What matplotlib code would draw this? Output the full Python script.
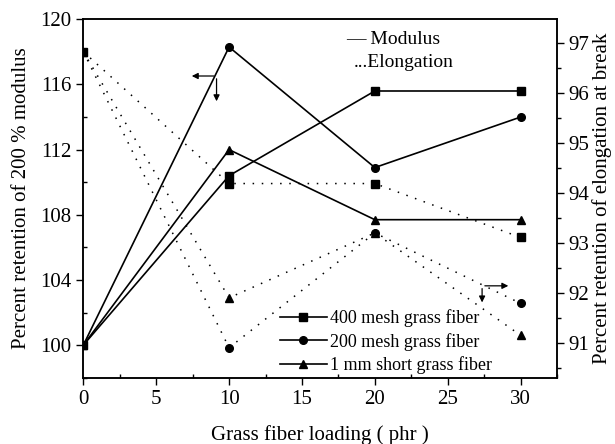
import matplotlib.pyplot as plt
from matplotlib.ticker import MultipleLocator

plt.rcParams['font.family'] = ['Liberation Serif', 'DejaVu Serif']

# grass fiber loading (phr)
loading = [0, 10, 20, 30]

# retention of 200 % modulus (left axis)
mod_400 = [100.0, 110.4, 115.6, 115.6]
mod_200 = [100.0, 118.3, 110.9, 114.0]
mod_1mm = [100.0, 112.0, 107.7, 107.7]

# retention of elongation at break (right axis)
elo_400 = [96.83, 94.19, 94.19, 93.11]
elo_200 = [96.83, 90.90, 93.20, 91.79]
elo_1mm = [96.83, 91.90, 93.20, 91.15]

labels = ['400 mesh grass fiber', '200 mesh grass fiber', '1 mm short grass fiber']
markers = ['s', 'o', '^']

fig = plt.figure(figsize=(6.15, 4.44), dpi=100)
ax = fig.add_axes([0.1355, 0.1493, 0.7702, 0.8072])
ax2 = ax.twinx()

handles = []
for y, m, lab in zip([mod_400, mod_200, mod_1mm], markers, labels):
    h, = ax.plot(loading, y, color='black', lw=1.2, marker=m, ms=5.5, label=lab)
    handles.append(h)

for y, m in zip([elo_400, elo_200, elo_1mm], markers):
    ax2.plot(loading, y, color='black', lw=1.1, ls=(0, (1, 5)), marker=m, ms=5.5)

ax.set_xlim(0, 32.5)
ax.set_ylim(98, 120)
ax2.set_ylim(90.3, 97.48)

ax.xaxis.set_major_locator(MultipleLocator(5))
ax.xaxis.set_minor_locator(MultipleLocator(2.5))
ax.yaxis.set_major_locator(MultipleLocator(4))
ax.yaxis.set_minor_locator(MultipleLocator(2))
ax2.yaxis.set_major_locator(MultipleLocator(1))
ax2.yaxis.set_minor_locator(MultipleLocator(0.5))

ax.tick_params(axis='both', which='major', direction='out', length=5, width=1, labelsize=15)
ax.tick_params(axis='both', which='minor', direction='in', length=3, width=1)
ax2.tick_params(axis='y', which='major', direction='out', length=5, width=1, labelsize=15)
ax2.tick_params(axis='y', which='minor', direction='out', length=3, width=1)
for a in (ax, ax2):
    for s in a.spines.values():
        s.set_linewidth(1.1)

ax.set_xlabel('Grass fiber loading ( phr )', fontsize=15, labelpad=12)
ax.set_ylabel('Percent retention of 200 % modulus', fontsize=15, labelpad=7)
ax2.set_ylabel('Percent retention of elongation at break', fontsize=15, labelpad=2)

ax.text(18.0, 118.75, '\u2014 Modulus', fontsize=14, va='center')
ax.text(18.55, 117.35, '...Elongation', fontsize=14, va='center')

# axis pointers: left for modulus, right for elongation
arw = dict(arrowstyle='-|>', color='black', lw=0.9, mutation_scale=9)
ax.annotate('', xy=(7.25, 116.52), xytext=(9.14, 116.52), arrowprops=arw)
ax.annotate('', xy=(9.14, 114.8), xytext=(9.14, 116.52), arrowprops=arw)
ax.annotate('', xy=(29.35, 103.64), xytext=(27.36, 103.64), arrowprops=arw)
ax.annotate('', xy=(27.36, 102.45), xytext=(27.36, 103.64), arrowprops=arw)

ax2.legend(handles=handles, loc='upper left', bbox_to_anchor=(0.415, 0.19),
           frameon=False, fontsize=13, handlelength=2.6, handletextpad=0.2,
           labelspacing=0.3, borderpad=0, borderaxespad=0)

fig.savefig('out.png', dpi=100)
